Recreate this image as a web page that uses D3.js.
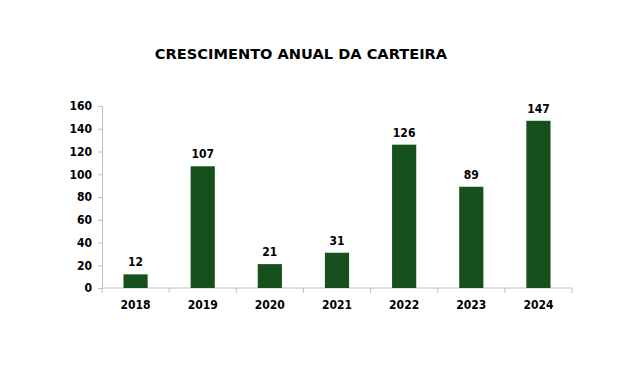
<!DOCTYPE html>
<html><head><meta charset="utf-8">
<script src="https://cdn.jsdelivr.net/npm/d3@7"></script>
<style>body{margin:0;background:#fff;} text{font-family:"DejaVu Sans Condensed","DejaVu Sans",sans-serif;font-weight:bold;fill:#000;}</style>
</head><body><svg id="c" width="640" height="387"></svg>
<script>
const categories = ["2018","2019","2020","2021","2022","2023","2024"];
const values = [12,107,21,31,126,89,147];
const yTicks = [0,20,40,60,80,100,120,140,160];
const title = "CRESCIMENTO ANUAL DA CARTEIRA";

const svg = d3.select("#c");
const x = d3.scaleBand().domain(categories).range([102,572]).paddingInner(0.64).paddingOuter(0.32);
const y = d3.scaleLinear().domain([0,160]).range([288,106]);
const axisColor = "#bfbfbf";

svg.append("text").attr("x",301).attr("y",59).attr("text-anchor","middle")
  .style("font-family","'DejaVu Sans',sans-serif").style("font-size","14.6px").text(title);

// y axis
const ya = svg.append("g").attr("transform","translate(102,0)").call(d3.axisLeft(y).tickValues(yTicks).tickSize(4).tickPadding(6));
ya.select(".domain").attr("stroke",axisColor);
ya.selectAll(".tick line").attr("stroke",axisColor);
ya.selectAll(".tick text").style("font-size","12px").style("font-family","'DejaVu Sans Condensed','DejaVu Sans',sans-serif").attr("fill","#000");

// x axis
const xa = svg.append("g").attr("transform","translate(0,288)");
xa.append("line").attr("x1",102).attr("x2",572).attr("stroke",axisColor);
const bounds = d3.range(categories.length+1).map(i => 102 + i*(470/categories.length));
xa.selectAll("line.t").data(bounds).join("line").attr("class","t").attr("x1",d=>d).attr("x2",d=>d).attr("y1",0).attr("y2",5).attr("stroke",axisColor);
xa.selectAll("text").data(categories).join("text").attr("x",d=>x(d)+x.bandwidth()/2).attr("y",21).attr("text-anchor","middle").style("font-size","12px").text(d=>d);

svg.selectAll("rect.bar").data(categories).join("rect").attr("class","bar")
  .attr("x",d=>x(d)).attr("width",x.bandwidth())
  .attr("y",(d,i)=>y(values[i])).attr("height",(d,i)=>y(0)-y(values[i]))
  .attr("fill","#15501d");

svg.selectAll("text.lbl").data(categories).join("text").attr("class","lbl")
  .attr("x",d=>x(d)+x.bandwidth()/2).attr("y",(d,i)=>y(values[i])-8)
  .attr("text-anchor","middle").style("font-size","12px").text((d,i)=>values[i]);
</script></body></html>
